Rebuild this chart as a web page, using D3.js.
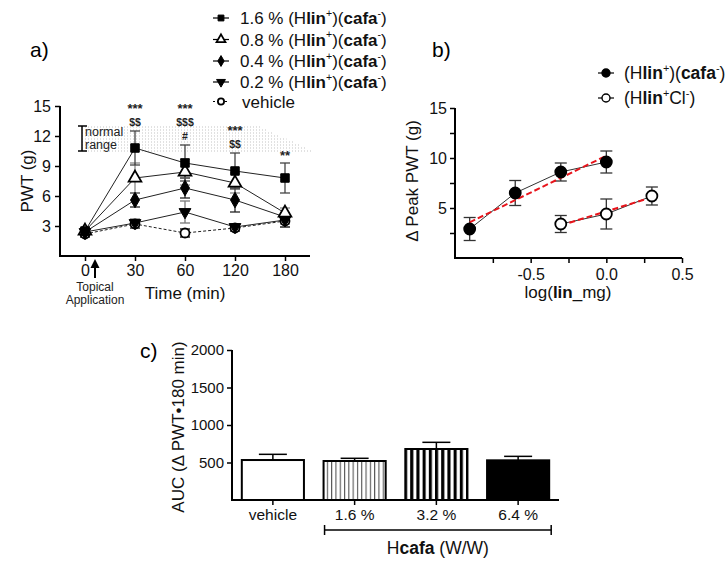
<!DOCTYPE html>
<html><head><meta charset="utf-8">
<script src="https://cdn.jsdelivr.net/npm/d3@7"></script>
<style>body{margin:0;background:#fff}svg{font-family:"Liberation Sans",Arial,sans-serif}</style>
</head><body><svg id="c" width="727" height="562"></svg>
<script>
// ---------- Panel a data ----------
const timeCats = ["0","30","60","120","180"];
const a16 = [2.5, 10.8, 9.3, 8.5, 7.8];  const a16e = [0.3, 1.7, 1.8, 1.8, 1.5];
const a08 = [2.5, 7.8, 8.4, 7.3, 4.3];   const a08e = [0.3, 1.5, 1.3, 1.0, 0.5];
const a04 = [2.4, 5.6, 6.8, 5.6, 3.9];   const a04e = [0.3, 0.7, 1.0, 1.2, 0.4];
const a02 = [2.4, 3.3, 4.4, 2.9, 3.6];   const a02e = [0.3, 0.4, 1.1, 0.3, 0.4];
const aVeh = [2.2, 3.2, 2.3, 2.8, 3.5];  const aVehe = [0.3, 0.4, 0.4, 0.3, 0.6];
const aYTicks = [3, 6, 9, 12, 15];
const normalRange = [10.5, 13.0];
const annotations = [
  {cat:"30", v:14.9, t:"***"}, {cat:"30", v:13.3, t:"$$"},
  {cat:"60", v:14.9, t:"***"}, {cat:"60", v:13.3, t:"$$$"}, {cat:"60", v:11.85, t:"#"},
  {cat:"120", v:12.7, t:"***"}, {cat:"120", v:11.1, t:"$$"},
  {cat:"180", v:10.2, t:"**"}
];
// ---------- Panel b data ----------
const bSaltX = [-0.903, -0.602, -0.301, 0.0];
const bSaltY = [2.9, 6.5, 8.6, 9.6];
const bSaltE = [1.15, 1.25, 0.9, 1.1];
const bClX = [-0.301, 0.0, 0.301];
const bClY = [3.4, 4.4, 6.2];
const bClE = [0.85, 1.5, 0.9];
const bXTicks = [-0.75, -0.5, -0.25, 0, 0.25, 0.5];
const bXLabels = {"-0.5":"-0.5", "0":"0.0", "0.5":"0.5"};
const bYTicks = [2.5, 5, 7.5, 10, 12.5, 15];
const bYLabels = [5, 10, 15];
// ---------- Panel c data ----------
const cCats = ["vehicle", "1.6 %", "3.2 %", "6.4 %"];
const cVals = [533, 520, 680, 529];
const cErr  = [76, 36, 89, 53];
const cYTicks = [500, 1000, 1500, 2000];

const svg = d3.select("#c");
const defs = svg.append("defs");
const p1 = defs.append("pattern").attr("id","thin").attr("patternUnits","userSpaceOnUse").attr("width",4.3).attr("height",10);
p1.append("rect").attr("width",4.3).attr("height",10).attr("fill","#fff");
p1.append("rect").attr("x",0).attr("width",1.1).attr("height",10).attr("fill","#555");
const p2 = defs.append("pattern").attr("id","thick").attr("patternUnits","userSpaceOnUse").attr("width",6.2).attr("height",10).attr("x",1);
p2.append("rect").attr("width",6.2).attr("height",10).attr("fill","#fff");
p2.append("rect").attr("x",0).attr("width",3.1).attr("height",10).attr("fill","#000");

function rich(sel, x, y, segs, size, anchor) {
  const t = sel.append("text").attr("x", x).attr("y", y).attr("font-size", size)
    .attr("text-anchor", anchor || "start").attr("fill", "#111");
  let sup = false;
  segs.forEach(s => {
    const seg = typeof s === "string" ? {t: s} : s;
    const ts = t.append("tspan").text(seg.t);
    if (seg.b) ts.attr("font-weight", "bold");
    if (seg.sup && !sup) { ts.attr("dy", -size * 0.42).attr("font-size", size * 0.62); sup = true; }
    else if (seg.sup) { ts.attr("font-size", size * 0.62); }
    else if (sup) { ts.attr("dy", size * 0.42); sup = false; }
  });
  return t;
}
function marker(g, type, x, y, s) {
  const sym = {sq: d3.symbolSquare, tri: d3.symbolTriangle, dia: d3.symbolDiamond, dtri: d3.symbolTriangle, circ: d3.symbolCircle}[type];
  const fill = (type === "tri" || type === "circ") ? "#fff" : "#000";
  return g.append("path").attr("d", d3.symbol(sym, s)())
    .attr("transform", `translate(${x},${y})` + (type === "dtri" ? " rotate(180)" : ""))
    .attr("fill", fill).attr("stroke", "#000").attr("stroke-width", type === "circ" || type === "tri" ? 1.8 : 1);
}

// =============== Panel a ===============
const ga = svg.append("g");
const xa = d3.scalePoint().domain(timeCats).range([85, 285]);
const ya = d3.scaleLinear().domain([0, 15]).range([256, 106]);
ga.append("text").attr("x", 30).attr("y", 57).attr("font-size", 21).text("a)");

const nTop = ya(normalRange[1]), nBot = ya(normalRange[0]);
for (let yy = nTop + 1; yy <= nBot; yy += 3) {
  const frac = (yy - nTop) / (nBot - nTop);
  ga.append("line").attr("x1", 82).attr("x2", 258 + frac * 55).attr("y1", yy).attr("y2", yy)
    .attr("stroke", "#aaa").attr("stroke-width", 0.7).attr("stroke-dasharray", "1,2");
}
ga.append("line").attr("x1", 82).attr("x2", 82).attr("y1", nTop).attr("y2", nBot).attr("stroke", "#000").attr("stroke-width", 1.5);
ga.append("line").attr("x1", 78).attr("x2", 87).attr("y1", nTop).attr("y2", nTop).attr("stroke", "#000").attr("stroke-width", 1.5);
ga.append("line").attr("x1", 78).attr("x2", 87).attr("y1", nBot).attr("y2", nBot).attr("stroke", "#000").attr("stroke-width", 1.5);
ga.append("text").attr("x", 85).attr("y", nTop + 10).attr("font-size", 12.5).attr("fill", "#222").text("normal");
ga.append("text").attr("x", 85).attr("y", nBot - 2).attr("font-size", 12.5).attr("fill", "#222").text("range");

const axL = ga.append("g").attr("transform", "translate(60,0)")
  .call(d3.axisLeft(ya).tickValues(aYTicks).tickSize(5).tickSizeOuter(0).tickPadding(4));
axL.select(".domain").remove();
axL.selectAll("text").attr("font-size", 16).attr("font-family", "Liberation Sans, Arial").attr("fill", "#111");
axL.selectAll("line").attr("stroke-width", 1.5);
ga.append("line").attr("x1", 60).attr("x2", 60).attr("y1", ya(15)).attr("y2", ya(0) + 1).attr("stroke", "#000").attr("stroke-width", 2);
const axB = ga.append("g").attr("transform", `translate(0,${ya(0)})`)
  .call(d3.axisBottom(xa).tickSize(5).tickSizeOuter(0).tickPadding(4));
axB.select(".domain").remove();
axB.selectAll("text").attr("font-size", 16).attr("font-family", "Liberation Sans, Arial").attr("fill", "#111");
axB.selectAll("line").attr("stroke-width", 1.5);
ga.append("line").attr("x1", 59).attr("x2", 310).attr("y1", ya(0)).attr("y2", ya(0)).attr("stroke", "#000").attr("stroke-width", 2);
ga.append("text").attr("transform", `translate(33,${ya(7.5)}) rotate(-90)`).attr("text-anchor", "middle")
  .attr("font-size", 17).attr("fill", "#111").text("PWT (g)");
ga.append("text").attr("x", 185).attr("y", 299).attr("text-anchor", "middle").attr("font-size", 17).attr("fill", "#111").text("Time (min)");
ga.append("text").attr("x", 95).attr("y", 291).attr("text-anchor", "middle").attr("font-size", 12).attr("fill", "#222").text("Topical");
ga.append("text").attr("x", 95).attr("y", 304).attr("text-anchor", "middle").attr("font-size", 12).attr("fill", "#222").text("Application");
ga.append("line").attr("x1", 95).attr("x2", 95).attr("y1", 278).attr("y2", 264).attr("stroke", "#000").attr("stroke-width", 2);
ga.append("path").attr("d", "M95,259 L90.5,268 L99.5,268 Z").attr("fill", "#000");

const seriesA = [
  {v: aVeh, e: aVehe, m: "circ", dash: "3,2", ec: "#000", size: 64},
  {v: a02, e: a02e, m: "dtri", dash: null, ec: "#777", size: 60},
  {v: a04, e: a04e, m: "dia", dash: null, ec: "#222", size: 70},
  {v: a08, e: a08e, m: "tri", dash: null, ec: "#888", size: 70},
  {v: a16, e: a16e, m: "sq", dash: null, ec: "#444", size: 72}
];
const lineA = d3.line().x((d, i) => xa(timeCats[i])).y(d => ya(d));
seriesA.forEach(s => {
  s.v.forEach((d, i) => {
    const x = xa(timeCats[i]);
    const g = ga.append("g").attr("stroke", s.ec).attr("stroke-width", 1.3);
    g.append("line").attr("x1", x).attr("x2", x).attr("y1", ya(d + s.e[i])).attr("y2", ya(d - s.e[i]));
    g.append("line").attr("x1", x - 5).attr("x2", x + 5).attr("y1", ya(d + s.e[i])).attr("y2", ya(d + s.e[i]));
    g.append("line").attr("x1", x - 5).attr("x2", x + 5).attr("y1", ya(d - s.e[i])).attr("y2", ya(d - s.e[i]));
  });
});
seriesA.forEach(s => {
  ga.append("path").attr("d", lineA(s.v)).attr("fill", "none").attr("stroke", "#222").attr("stroke-width", 1)
    .attr("stroke-dasharray", s.dash);
});
seriesA.forEach(s => {
  s.v.forEach((d, i) => marker(ga, s.m, xa(timeCats[i]), ya(d), s.size));
});
annotations.forEach(a => {
  const isStar = a.t.includes("*");
  ga.append("text").attr("x", xa(a.cat)).attr("y", ya(a.v)).attr("text-anchor", "middle")
    .attr("dominant-baseline", "middle").attr("font-size", isStar ? 13 : 10.5).attr("font-weight", "bold")
    .attr("fill", "#222").attr("dy", isStar ? 3 : 0).text(a.t);
});

const legA = [
  {m: "sq", label: ["1.6 % (H", {t:"lin",b:1}, {t:"+",sup:1}, ")(", {t:"cafa",b:1}, {t:"-",sup:1}, ")"], y: 18, dash: null},
  {m: "tri", label: ["0.8 % (H", {t:"lin",b:1}, {t:"+",sup:1}, ")(", {t:"cafa",b:1}, {t:"-",sup:1}, ")"], y: 39.5, dash: null},
  {m: "dia", label: ["0.4 % (H", {t:"lin",b:1}, {t:"+",sup:1}, ")(", {t:"cafa",b:1}, {t:"-",sup:1}, ")"], y: 61, dash: null},
  {m: "dtri", label: ["0.2 % (H", {t:"lin",b:1}, {t:"+",sup:1}, ")(", {t:"cafa",b:1}, {t:"-",sup:1}, ")"], y: 82, dash: null},
  {m: "circ", label: ["vehicle"], y: 101.5, dash: "2,2"}
];
legA.forEach(l => {
  ga.append("line").attr("x1", 213).attr("x2", 229).attr("y1", l.y).attr("y2", l.y).attr("stroke", "#000").attr("stroke-width", 1.2).attr("stroke-dasharray", l.dash);
  marker(ga, l.m, 221, l.y, l.m === "circ" ? 30 : 34);
  rich(ga, l.m === "circ" ? 242 : 240, l.y + 6, l.label, 17);
});

// =============== Panel b ===============
const gb = svg.append("g");
const xb = d3.scaleLinear().domain([-1, 0.5]).range([455, 682]);
const yb = d3.scaleLinear().domain([0, 15]).range([258, 108]);
gb.append("text").attr("x", 432).attr("y", 57).attr("font-size", 21).text("b)");
const bxAx = gb.append("g").attr("transform", `translate(0,${yb(0)})`)
  .call(d3.axisBottom(xb).tickValues(bXTicks).tickSize(5).tickSizeOuter(0).tickPadding(6)
    .tickFormat(d => bXLabels[String(d)] || ""));
bxAx.select(".domain").remove();
bxAx.selectAll("text").attr("font-size", 16).attr("font-family", "Liberation Sans, Arial").attr("fill", "#111");
bxAx.selectAll("line").attr("stroke-width", 1.5);
const byAx = gb.append("g").attr("transform", `translate(${xb(-1)},0)`)
  .call(d3.axisLeft(yb).tickValues(bYTicks).tickSize(5).tickSizeOuter(0).tickPadding(3)
    .tickFormat(d => bYLabels.includes(d) ? d : ""));
byAx.select(".domain").remove();
byAx.selectAll("text").attr("font-size", 16).attr("font-family", "Liberation Sans, Arial").attr("fill", "#111");
byAx.selectAll("line").attr("stroke-width", 1.5);
gb.append("line").attr("x1", xb(-1)).attr("x2", xb(-1)).attr("y1", yb(15)).attr("y2", yb(0) + 1).attr("stroke", "#000").attr("stroke-width", 2);
gb.append("line").attr("x1", xb(-1) - 1).attr("x2", xb(0.5)).attr("y1", yb(0)).attr("y2", yb(0)).attr("stroke", "#000").attr("stroke-width", 2);
gb.append("text").attr("transform", `translate(418,${yb(7.5) - 2}) rotate(-90)`).attr("text-anchor", "middle")
  .attr("font-size", 17).attr("fill", "#111").text("Δ Peak PWT (g)");
rich(gb, 568, 298, ["log(", {t:"lin",b:1}, "_mg)"], 17, "middle");

function fit(xs, ys) {
  const mx = d3.mean(xs), my = d3.mean(ys);
  const sxy = d3.sum(xs, (x, i) => (x - mx) * (ys[i] - my));
  const sxx = d3.sum(xs, x => (x - mx) ** 2);
  const k = sxy / sxx;
  return x => my + k * (x - mx);
}
[[bSaltX, bSaltY, bSaltE, "#000"], [bClX, bClY, bClE, "#fff"]].forEach(([xs, ys, es, fill]) => {
  xs.forEach((x, i) => {
    const g = gb.append("g").attr("stroke", "#333").attr("stroke-width", 1.3);
    g.append("line").attr("x1", xb(x)).attr("x2", xb(x)).attr("y1", yb(ys[i] + es[i])).attr("y2", yb(ys[i] - es[i]));
    g.append("line").attr("x1", xb(x) - 6).attr("x2", xb(x) + 6).attr("y1", yb(ys[i] + es[i])).attr("y2", yb(ys[i] + es[i]));
    g.append("line").attr("x1", xb(x) - 6).attr("x2", xb(x) + 6).attr("y1", yb(ys[i] - es[i])).attr("y2", yb(ys[i] - es[i]));
  });
  gb.append("path").attr("d", d3.line().x(d => xb(d[0])).y(d => yb(d[1]))(xs.map((x, i) => [x, ys[i]])))
    .attr("fill", "none").attr("stroke", "#333").attr("stroke-width", 1);
  const f = fit(xs, ys);
  const x0 = d3.min(xs), x1 = d3.max(xs);
  gb.append("line").attr("x1", xb(x0)).attr("x2", xb(x1)).attr("y1", yb(f(x0))).attr("y2", yb(f(x1)))
    .attr("stroke", "#e8141b").attr("stroke-width", 2).attr("stroke-dasharray", "6,3");
  xs.forEach((x, i) => gb.append("circle").attr("cx", xb(x)).attr("cy", yb(ys[i])).attr("r", 5.5)
    .attr("fill", fill).attr("stroke", "#000").attr("stroke-width", 1.8));
});
[[73, "#000", ["(H", {t:"lin",b:1}, {t:"+",sup:1}, ")(", {t:"cafa",b:1}, {t:"-",sup:1}, ")"]],
 [98, "#fff", ["(H", {t:"lin",b:1}, {t:"+",sup:1}, "Cl", {t:"-",sup:1}, ")"]]].forEach(([y, fill, lab]) => {
  gb.append("line").attr("x1", 598).attr("x2", 614).attr("y1", y).attr("y2", y).attr("stroke", "#000").attr("stroke-width", 1.2);
  gb.append("circle").attr("cx", 606).attr("cy", y).attr("r", 4).attr("fill", fill).attr("stroke", "#000").attr("stroke-width", 1.4);
  rich(gb, 624, y + 6, lab, 17.5);
});

// =============== Panel c ===============
const gc = svg.append("g");
const xc = d3.scaleBand().domain(cCats).range([232, 559]).paddingInner(0.24).paddingOuter(0.12);
const yc = d3.scaleLinear().domain([0, 2000]).range([500, 350]);
gc.append("text").attr("x", 140).attr("y", 358).attr("font-size", 21).text("c)");
const fills = ["#fff", "url(#thin)", "url(#thick)", "#000"];
cCats.forEach((c, i) => {
  const cx = xc(c) + xc.bandwidth() / 2;
  const top = yc(cVals[i] + cErr[i]);
  gc.append("line").attr("x1", cx).attr("x2", cx).attr("y1", top).attr("y2", yc(cVals[i])).attr("stroke", "#000").attr("stroke-width", 1.5);
  gc.append("line").attr("x1", cx - 14).attr("x2", cx + 14).attr("y1", top).attr("y2", top).attr("stroke", "#000").attr("stroke-width", 1.5);
  gc.append("rect").attr("x", xc(c)).attr("y", yc(cVals[i])).attr("width", xc.bandwidth()).attr("height", yc(0) - yc(cVals[i]))
    .attr("fill", fills[i]).attr("stroke", "#000").attr("stroke-width", 2);
});
const cyAx = gc.append("g").attr("transform", "translate(232,0)")
  .call(d3.axisLeft(yc).tickValues(cYTicks).tickSize(5).tickSizeOuter(0).tickPadding(3).tickFormat(d3.format("d")));
cyAx.select(".domain").remove();
cyAx.selectAll("text").attr("font-size", 15).attr("font-family", "Liberation Sans, Arial").attr("fill", "#111");
cyAx.selectAll("line").attr("stroke-width", 1.5);
const cxAx = gc.append("g").attr("transform", `translate(0,${yc(0)})`)
  .call(d3.axisBottom(xc).tickSize(5).tickSizeOuter(0).tickPadding(4));
cxAx.select(".domain").remove();
cxAx.selectAll("text").attr("font-size", 15.5).attr("font-family", "Liberation Sans, Arial").attr("fill", "#111");
cxAx.selectAll("line").attr("stroke-width", 1.5);
gc.append("line").attr("x1", 232).attr("x2", 232).attr("y1", yc(2000)).attr("y2", yc(0) + 1).attr("stroke", "#000").attr("stroke-width", 2);
gc.append("line").attr("x1", 231).attr("x2", 559).attr("y1", yc(0)).attr("y2", yc(0)).attr("stroke", "#000").attr("stroke-width", 2);
gc.append("text").attr("transform", `translate(184,${yc(1000) + 2}) rotate(-90)`).attr("text-anchor", "middle")
  .attr("font-size", 17).attr("fill", "#111").text("AUC (Δ PWT•180 min)");
const bx0 = xc("1.6 %") + 1, bx1 = xc("6.4 %") + xc.bandwidth() + 2;
gc.append("line").attr("x1", bx0).attr("x2", bx1).attr("y1", 530).attr("y2", 530).attr("stroke", "#000").attr("stroke-width", 1.5);
gc.append("line").attr("x1", bx0).attr("x2", bx0).attr("y1", 525).attr("y2", 535).attr("stroke", "#000").attr("stroke-width", 1.5);
gc.append("line").attr("x1", bx1).attr("x2", bx1).attr("y1", 525).attr("y2", 535).attr("stroke", "#000").attr("stroke-width", 1.5);
rich(gc, (bx0 + bx1) / 2, 554, ["H", {t:"cafa",b:1}, " (W/W)"], 17.5, "middle");
</script></body></html>
